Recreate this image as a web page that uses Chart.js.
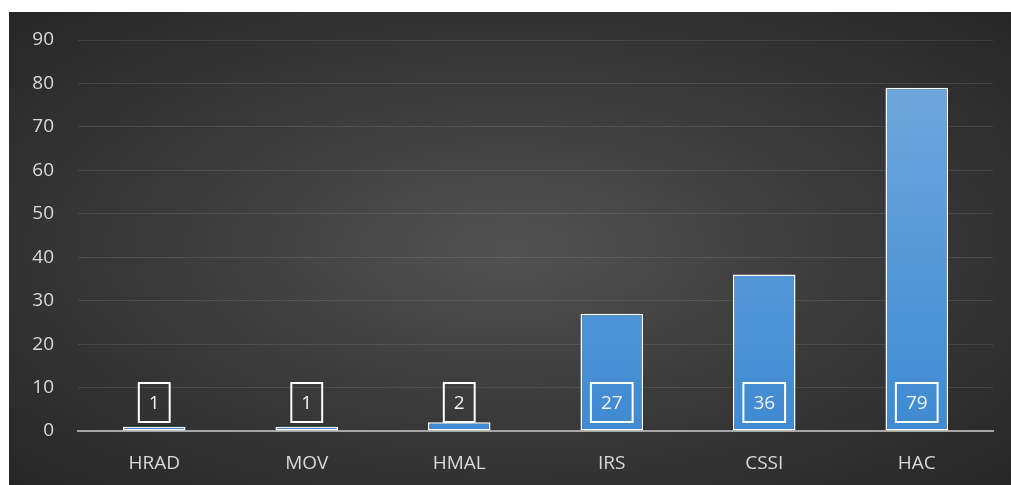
<!DOCTYPE html>
<html>
<head>
<meta charset="utf-8">
<script src="https://cdn.jsdelivr.net/npm/chart.js@4/dist/chart.umd.min.js"></script>
<style>
    body { margin: 0; background: #ffffff; }
    #wrap {
        position: absolute;
        left: 9px;
        top: 12px;
        width: 1002px;
        height: 473px;
        background: radial-gradient(ellipse at 50% 50%, #525252 0%, #3c3c3c 45%, #262626 100%);
    }
</style>
</head>
<body>
<div id="wrap"><canvas id="barChart" width="1002" height="473"></canvas></div>
<script>
// data
const categories = ["HRAD", "MOV", "HMAL", "IRS", "CSSI", "HAC"];
const counts = [1, 1, 2, 27, 36, 79];
const yTicks = [0, 10, 20, 30, 40, 50, 60, 70, 80, 90];

const FONT = "'Open Sans', 'Noto Sans', sans-serif";

// boxed value labels at the base of each bar
const boxLabels = {
    id: "boxLabels",
    afterDatasetsDraw(chart) {
        const ctx = chart.ctx;
        const meta = chart.getDatasetMeta(0);
        ctx.save();
        ctx.font = "19px " + FONT;
        ctx.textAlign = "center";
        ctx.textBaseline = "middle";
        meta.data.forEach((bar, i) => {
            const txt = String(counts[i]);
            const w = ctx.measureText(txt).width + 20;
            const h = 39;
            const cy = bar.base - 28;
            ctx.strokeStyle = "#ffffff";
            ctx.lineWidth = 2;
            ctx.strokeRect(bar.x - w / 2, cy - h / 2, w, h);
            ctx.fillStyle = "#f2f2f2";
            ctx.fillText(txt, bar.x, cy + 1);
        });
        ctx.restore();
    }
};

const canvas = document.getElementById("barChart");

new Chart(canvas, {
    type: "bar",
    data: {
        labels: categories,
        datasets: [{
            data: counts,
            backgroundColor: (c) => {
                const area = c.chart.chartArea;
                if (!area) return "#4a90d9";
                const g = c.chart.ctx.createLinearGradient(0, area.top, 0, area.bottom);
                g.addColorStop(0, "#75aadf");
                g.addColorStop(1, "#3e8ad2");
                return g;
            },
            borderColor: "#ffffff",
            borderWidth: 1.5,
            borderSkipped: false,
            categoryPercentage: 1,
            barPercentage: 0.41
        }]
    },
    options: {
        responsive: false,
        animation: false,
        layout: { padding: { top: 28, right: 18, bottom: 0, left: 0 } },
        plugins: {
            legend: { display: false },
            tooltip: { enabled: false }
        },
        scales: {
            x: {
                grid: { display: false, drawTicks: false },
                border: { color: "#a6a6a6", width: 2 },
                ticks: {
                    color: "#d9d9d9",
                    font: { family: FONT, size: 19 },
                    padding: 21
                },
                afterFit: (s) => { s.height = 54; }
            },
            y: {
                min: 0,
                max: 90,
                afterBuildTicks: (s) => { s.ticks = yTicks.map(v => ({ value: v })); },
                grid: { color: "rgba(255,255,255,0.1)", drawTicks: false },
                border: { display: false },
                ticks: {
                    color: "#d9d9d9",
                    font: { family: FONT, size: 19 },
                    padding: 24
                },
                afterFit: (s) => {
                    s.width = 69;
                    s.paddingTop = 0;
                    s.paddingBottom = 0;
                }
            }
        }
    },
    plugins: [boxLabels]
});
</script>
</body>
</html>
